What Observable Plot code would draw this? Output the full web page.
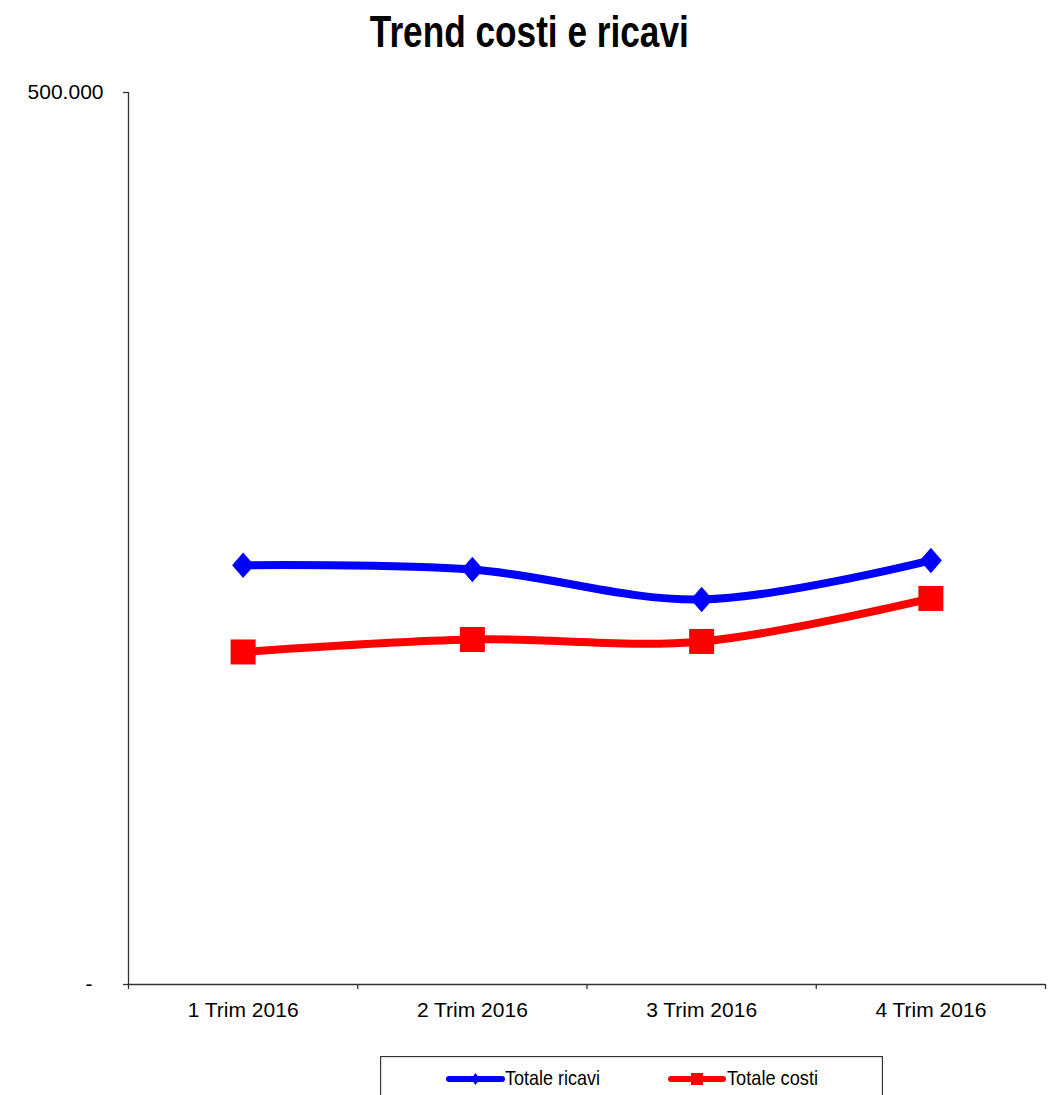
<!DOCTYPE html>
<html><head><meta charset="utf-8">
<script src="https://cdn.jsdelivr.net/npm/d3@7"></script>
<script src="https://cdn.jsdelivr.net/npm/@observablehq/plot@0.6"></script>
<style>
body{margin:0;background:#fff;font-family:"Liberation Sans",Arial,sans-serif;}
#wrap{position:relative;width:1059px;height:1095px;overflow:hidden;background:#fff;}
#title{position:absolute;left:0;top:-3px;width:1059px;height:70px;line-height:70px;text-align:center;
  font-family:"Liberation Sans",Arial,sans-serif;font-weight:bold;font-size:44px;color:#000;}
#title span{display:inline-block;transform:scaleX(0.8);transform-origin:center;}
#plot{position:absolute;left:0;top:70px;}
#legend{position:absolute;left:380px;top:1056px;}
</style></head>
<body>
<div id="wrap">
  <div id="title"><span>Trend costi e ricavi</span></div>
  <div id="plot"></div>
  <div id="legend"></div>
</div>
<script>
const categories = ["1 Trim 2016", "2 Trim 2016", "3 Trim 2016", "4 Trim 2016"];
const ricavi = [235000, 232600, 215800, 237700];
const costi = [186400, 193400, 192300, 216400];
const seriesNames = ["Totale ricavi", "Totale costi"];
const seriesColors = ["#0000FF", "#FF0000"];
const yTicks = [0, 500000];

const itFormat = d3.formatLocale({decimal: ",", thousands: ".", grouping: [3], currency: ["", "€"]}).format(",.0f");
const fmtY = d => d === 0 ? "-" : itFormat(d);

const data = [
  ...ricavi.map((v, i) => ({serie: seriesNames[0], i, value: v})),
  ...costi.map((v, i) => ({serie: seriesNames[1], i, value: v}))
];

const diamondSym = {draw(ctx, size) {
  const r = Math.sqrt(size / Math.PI), w = r * 1.05, h = r * 1.22;
  ctx.moveTo(0, -h); ctx.lineTo(w, 0); ctx.lineTo(0, h); ctx.lineTo(-w, 0); ctx.closePath();
}};
const squareSym = {draw(ctx, size) {
  const r = Math.sqrt(size / Math.PI);
  ctx.rect(-r, -r, 2 * r, 2 * r);
}};

const font = "Liberation Sans, Arial, sans-serif";
const chart = Plot.plot({
  width: 1059, height: 970,
  marginTop: 22, marginBottom: 56, marginLeft: 128, marginRight: 14,
  style: {fontFamily: font, fontSize: "21px", color: "#000", background: "transparent", overflow: "visible"},
  x: {type: "linear", domain: [-0.5, categories.length - 0.5], axis: null},
  y: {domain: [0, 500000], axis: null},
  color: {domain: seriesNames, range: seriesColors},
  marks: [
    Plot.ruleX([-0.5], {stroke: "#333", strokeWidth: 1.3}),
    Plot.ruleY([0], {stroke: "#333", strokeWidth: 1.3}),
    Plot.axisY({ticks: [yTicks[1]], tickSize: 5, tickPadding: 20, tickFormat: fmtY, label: null, stroke: "#333", strokeWidth: 1.3, fill: "#000", fontSize: 21}),
    Plot.axisY({ticks: [yTicks[0]], tickSize: 5, tickPadding: 31, tickFormat: fmtY, label: null, stroke: "#333", strokeWidth: 1.3, fill: "#000", fontSize: 21}),
    Plot.axisX({ticks: d3.range(categories.length + 1).map(k => k - 0.5), tickSize: 5, tickFormat: () => "", label: null, stroke: "#333", strokeWidth: 1.3}),
    Plot.axisX({ticks: d3.range(categories.length), tickSize: 0, tickPadding: 18, tickFormat: i => categories[i], label: null, fill: "#000", fontSize: 21}),
    Plot.line(data, {x: "i", y: "value", z: "serie", stroke: "serie", strokeWidth: 8, curve: "catmull-rom", strokeLinejoin: "round", strokeLinecap: "round"}),
    Plot.dot(data.filter(d => d.serie === seriesNames[0]), {x: "i", y: "value", fill: seriesColors[0], r: 10.5, symbol: diamondSym}),
    Plot.dot(data.filter(d => d.serie === seriesNames[1]), {x: "i", y: "value", fill: seriesColors[1], r: 12.5, symbol: squareSym})
  ]
});
document.getElementById("plot").appendChild(chart);

// Legend
const lg = d3.select("#legend").append("svg").attr("width", 503).attr("height", 50).style("display", "block");
lg.append("rect").attr("x", 0.5).attr("y", 0.5).attr("width", 502).attr("height", 60).attr("fill", "#fff").attr("stroke", "#333").attr("stroke-width", 1.3);
const items = [
  {name: seriesNames[0], color: seriesColors[0], x0: 69, x1: 122, tx: 125, tl: 95, sym: "d"},
  {name: seriesNames[1], color: seriesColors[1], x0: 291, x1: 343, tx: 347, tl: 91, sym: "s"}
];
items.forEach(it => {
  lg.append("line").attr("x1", it.x0).attr("x2", it.x1).attr("y1", 23).attr("y2", 23)
    .attr("stroke", it.color).attr("stroke-width", 6).attr("stroke-linecap", "round");
  const cx = (it.x0 + it.x1) / 2;
  if (it.sym === "d") {
    lg.append("path").attr("d", `M${cx},17L${cx + 4.5},23L${cx},29L${cx - 4.5},23Z`).attr("fill", it.color);
  } else {
    lg.append("rect").attr("x", cx - 6).attr("y", 17).attr("width", 12).attr("height", 12).attr("fill", it.color);
  }
  lg.append("text").attr("x", it.tx).attr("y", 29).attr("font-family", font).attr("font-size", 21)
    .attr("textLength", it.tl).attr("lengthAdjust", "spacingAndGlyphs").attr("fill", "#000").text(it.name);
});
</script>
</body></html>
